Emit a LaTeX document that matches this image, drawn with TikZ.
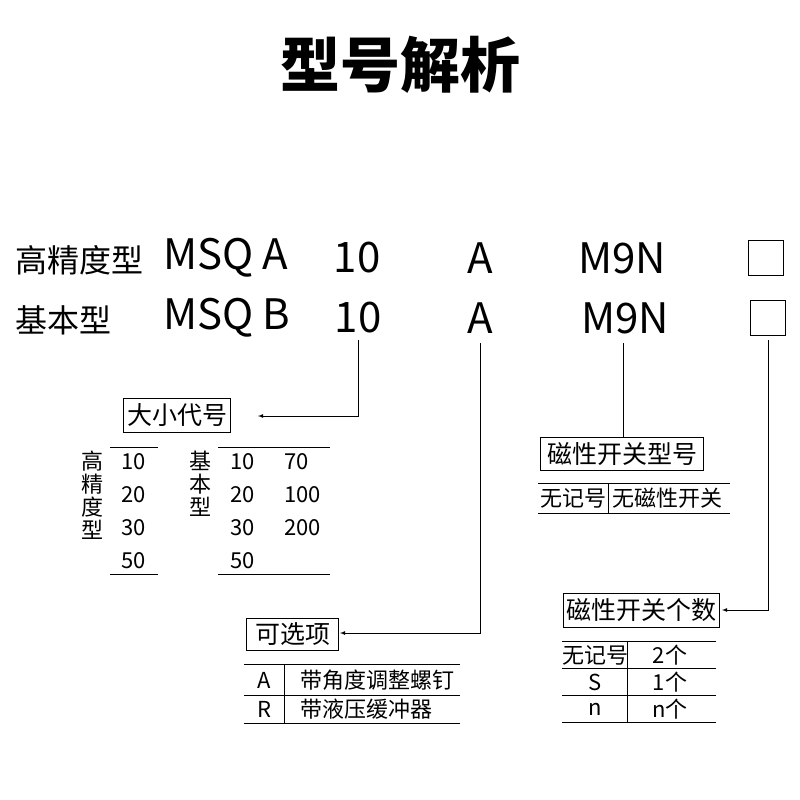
\documentclass[tikz,border=0pt]{standalone}
\usepackage{fontspec}
\setmainfont{Noto Sans CJK SC}
\begin{document}
\begin{tikzpicture}[x=1pt,y=-1pt,
 big/.style={font=\fontsize{42}{42}\selectfont,inner sep=0pt},
 lab/.style={font=\fontsize{32}{32}\selectfont,inner sep=0pt},
 bx/.style={draw,line width=1pt,font=\fontsize{25}{25}\selectfont,inner sep=0pt,anchor=north west},
 tx/.style={font=\fontsize{22}{22}\selectfont,inner sep=0pt},
 ln/.style={line width=0.8pt},
 ar/.style={line width=0.8pt,-latex}]
\useasboundingbox (0,0) rectangle (800,800);
\node[font=\fontsize{60}{60}\selectfont\bfseries,inner sep=0pt] (title) at (400,65) {型号解析};
% rows
\node[lab,anchor=west] (h1) at (15,260) {高精度型};
\node[big,anchor=west] (m1) at (163,258) {MSQ A};
\node[big] (n1) at (357,258) {10};
\node[big] (a1) at (480,258) {A};
\node[big] (s1) at (622,258) {M9N};
\node[draw,line width=1pt,minimum size=35pt,inner sep=0pt] (b1) at (766,258) {};
\node[lab,anchor=west] (h2) at (15,320) {基本型};
\node[big,anchor=west] (m2) at (163,318) {MSQ B};
\node[big] (n2) at (358,318) {10};
\node[big] (a2) at (480,318) {A};
\node[big] (s2) at (625,318) {M9N};
\node[draw,line width=1pt,minimum size=35pt,inner sep=0pt] (b2) at (768,318) {};
% size box
\node[bx,minimum width=107pt,minimum height=34pt] (dx) at (123,398) {大小代号};
\coordinate (c1) at (358,416);
\draw[ar] (n2.south |- 0,340) -- (c1) -- (258,416);
\draw[ln] (110,447) -- (158,447) (110,574) -- (158,574) (218,447) -- (330,447) (218,574) -- (330,574);
\foreach \c [count=\i] in {高,精,度,型} \node[tx] (hv\i) at (92,438+23*\i) {\c};
\foreach \c [count=\i] in {基,本,型} \node[tx] (jv\i) at (200,438+23*\i) {\c};
\foreach \v [count=\i] in {10,20,30,50} {\node[tx,anchor=west] (p\i) at (121,429+33*\i) {\v};
 \node[tx,anchor=west] (q\i) at (230,429+33*\i) {\v};}
\node[tx,anchor=west] (r1) at (284,462) {70};
\node[tx,anchor=west] (r2) at (284,495) {100};
\node[tx,anchor=west] (r3) at (284,528) {200};
% option box
\node[bx,minimum width=92pt,minimum height=32pt] (kx) at (246,618) {可选项};
\coordinate (c2) at (480,633);
\draw[ar] (480,343) -- (c2) -- (340,633);
\draw[ln] (244,664) -- (460,664) (244,695) -- (460,695) (244,723) -- (460,723) (284,664) -- (284,723);
\node[tx] (oa) at (264,680) {A};
\node[tx,anchor=west] (ob) at (300,680) {带角度调整螺钉};
\node[tx] (or) at (264,709) {R};
\node[tx,anchor=west] (oc) at (300,709) {带液压缓冲器};
% switch model
\node[bx,minimum width=163pt,minimum height=33pt] (sx) at (540,437) {磁性开关型号};
\draw[ln] (623,343) -- (sx.north -| 623,0);
\draw[ln] (538,483) -- (730,483) (538,513) -- (730,513) (608,483) -- (608,513);
\node[tx] (sa) at (573,498) {无记号};
\node[tx,anchor=west] (sb) at (612,498) {无磁性开关};
% count
\node[bx,minimum width=156pt,minimum height=34pt] (cx) at (563,593) {磁性开关个数};
\coordinate (c3) at (768,610);
\draw[ar] (768,340) -- (c3) -- (722,610);
\draw[ln] (562,641) -- (716,641) (562,668) -- (716,668) (562,695) -- (716,695) (562,722) -- (716,722) (627,641) -- (627,722);
\node[tx] (u1) at (595,655) {无记号};
\node[tx] (v1) at (670,655) {2个};
\node[tx] (u2) at (595,682) {S};
\node[tx] (v2) at (670,682) {1个};
\node[tx] (u3) at (595,709) {n};
\node[tx] (v3) at (670,709) {n个};
\end{tikzpicture}
\end{document}
